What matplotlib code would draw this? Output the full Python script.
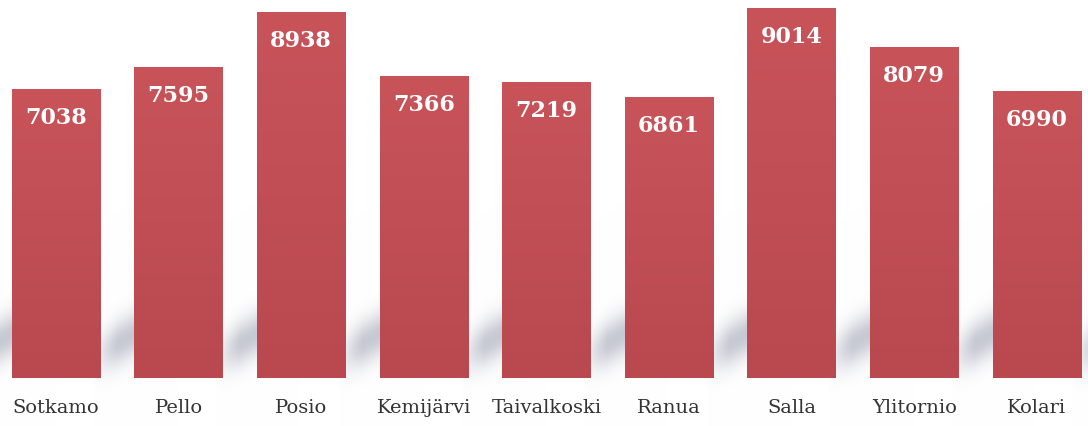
import numpy as np
import matplotlib
matplotlib.use("Agg")
import matplotlib.pyplot as plt
from matplotlib.colors import LinearSegmentedColormap

categories = ["Sotkamo", "Pello", "Posio", "Kemijärvi", "Taivalkoski",
              "Ranua", "Salla", "Ylitornio", "Kolari"]
values = [7038, 7595, 8938, 7366, 7219, 6861, 9014, 8079, 6990]

W, H = 1088, 426
fig = plt.figure(figsize=(W / 100, H / 100), dpi=100)
ax = fig.add_axes([0, 0, 1, 1])

px_per_unit_x = 122.6
x0 = -56 / px_per_unit_x
x1 = x0 + W / px_per_unit_x
px_per_val = 0.041
base_px = 378
y0 = -(H - base_px) / px_per_val
y1 = base_px / px_per_val
ax.set_xlim(x0, x1)
ax.set_ylim(y0, y1)
ax.axis("off")

def pix2val(p):
    return (base_px - p) / px_per_val

# soft floor shadow behind the bars (decoration)
nx, ny = 1088, 426
xs = np.linspace(x0, x1, nx)
ys = np.linspace(y0, y1, ny)
X, Y = np.meshgrid(xs, ys)
u = X - np.floor(X)
t = np.clip((u - 0.25) / 0.50, 0, 1)
centre = pix2val(362 - 36 * t)
sig = 22 / px_per_val
shadow = np.exp(-((Y - centre) / sig) ** 2) * 0.22
shadow *= np.clip((u - 0.30) / 0.20, 0, 1) ** 0.8
img = np.ones((ny, nx, 3)) - shadow[..., None] * np.array([1.0, 0.96, 0.78])
ax.imshow(img, extent=[x0, x1, y0, y1], origin="lower", aspect="auto",
          zorder=0, interpolation="bilinear")

xpos = np.arange(len(categories))
bars = ax.bar(xpos, values, width=0.72, color="#c04c54", edgecolor="none", zorder=2)

cmap = LinearSegmentedColormap.from_list("barg", ["#b9484f", "#c8545a"])
grad = np.linspace(0, 1, 256).reshape(-1, 1)
for b in bars:
    im = ax.imshow(grad, cmap=cmap, origin="lower", aspect="auto",
                   extent=[b.get_x(), b.get_x() + b.get_width(), 0, b.get_height()],
                   zorder=2.5)
    im.set_clip_path(b)

for x, v in zip(xpos, values):
    ax.text(x, v - 29 / px_per_val, str(v), ha="center", va="center",
            color="white", fontsize=16, fontweight="bold",
            family="DejaVu Serif", zorder=3)

for x, c in zip(xpos, categories):
    ax.text(x, pix2val(408), c, ha="center", va="center",
            color="#333333", fontsize=14, family="DejaVu Serif", zorder=3)

ax.set_xlim(x0, x1)
ax.set_ylim(y0, y1)
fig.savefig("out.png", dpi=100)
